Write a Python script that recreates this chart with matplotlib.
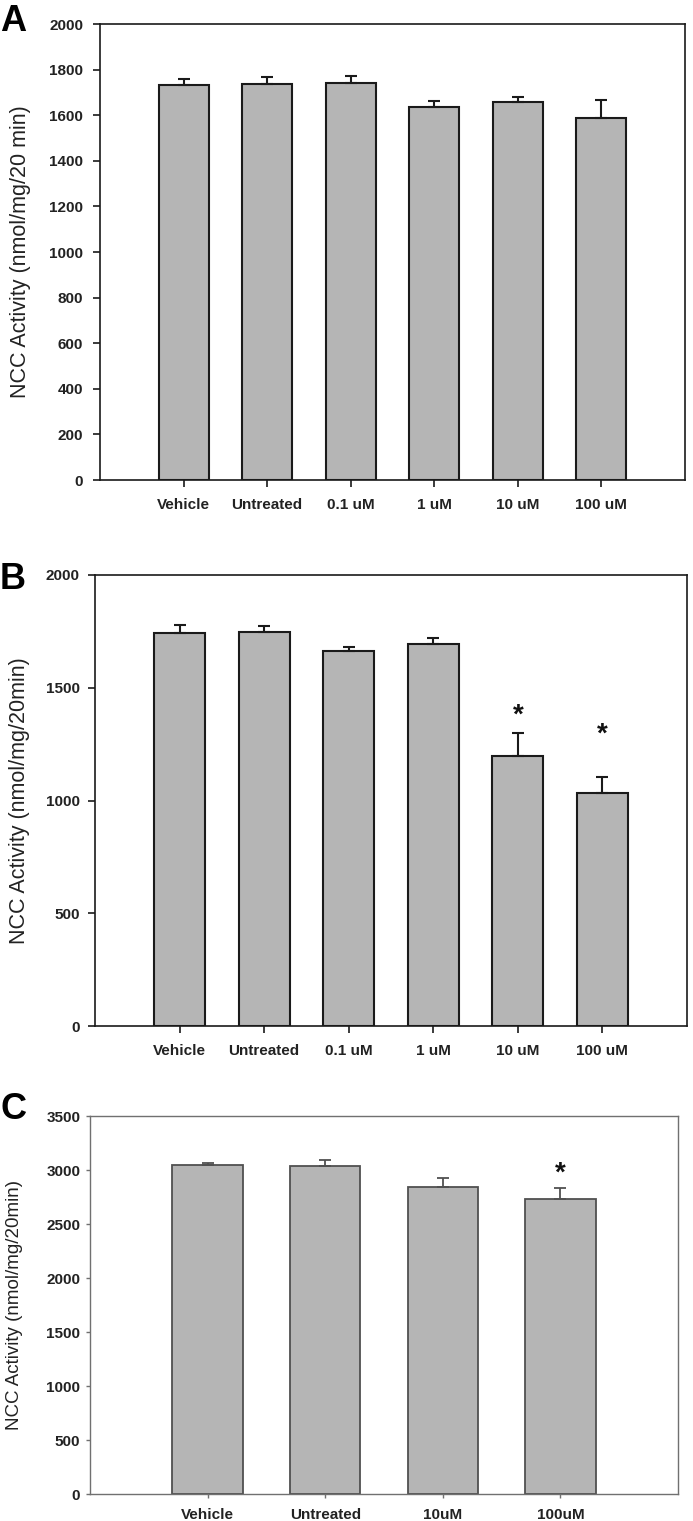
import matplotlib
matplotlib.use('Agg')
import matplotlib.pyplot as plt
import numpy as np

plt.rcParams['font.family'] = ['Liberation Sans', 'DejaVu Sans']

# ---------------- data ----------------
cats_a = ['Vehicle', 'Untreated', '0.1 uM', '1 uM', '10 uM', '100 uM']
vals_a = [1732, 1736, 1740, 1637, 1657, 1589]
errs_a = [26, 30, 32, 25, 23, 79]
yticks_a = [0, 200, 400, 600, 800, 1000, 1200, 1400, 1600, 1800, 2000]

cats_b = ['Vehicle', 'Untreated', '0.1 uM', '1 uM', '10 uM', '100 uM']
vals_b = [1744, 1747, 1664, 1694, 1196, 1033]
errs_b = [34, 28, 18, 25, 103, 73]
yticks_b = [0, 500, 1000, 1500, 2000]
star_idx_b = [4, 5]
star_val_b = [1375, 1290]

cats_c = ['Vehicle', 'Untreated', '10uM', '100uM']
vals_c = [3043, 3040, 2843, 2735]
errs_c = [21, 56, 87, 98]
yticks_c = [0, 500, 1000, 1500, 2000, 2500, 3000, 3500]
star_idx_c = [3]
star_val_c = [2967]

W, H = 693, 1521
fig = plt.figure(figsize=(W / 100, H / 100), dpi=100)


def rect(l, r, t, b):
    return [l / W, 1 - b / H, (r - l) / W, (b - t) / H]


def panel(r, cats, vals, errs, yticks, ylabel, ec, spc, lw, slw,
          tlen, xpad, ypad, label_px, label_size,
          star_idx=(), star_val=()):
    ax = fig.add_axes(r)
    n = len(cats)
    x = np.arange(n)
    ax.bar(x, vals, width=0.6, color='#b5b5b5', edgecolor=ec, linewidth=lw, zorder=2)
    ax.errorbar(x, vals, yerr=[np.zeros(n), errs], fmt='none', ecolor=ec,
                elinewidth=lw, capsize=4.3, capthick=lw, zorder=3)
    ax.set_xlim(-1, n)
    ax.set_ylim(0, yticks[-1])
    ax.set_yticks(yticks)
    ax.set_xticks(x)
    ax.set_xticklabels(cats)
    for s in ax.spines.values():
        s.set_color(spc)
        s.set_linewidth(slw)
    ax.tick_params(direction='out', length=tlen, width=slw, color=spc,
                   labelsize=11)
    ax.tick_params(axis='x', pad=xpad)
    ax.tick_params(axis='y', pad=ypad)
    for t in ax.get_xticklabels() + ax.get_yticklabels():
        t.set_fontweight('bold')
        t.set_color('#222222')
    ax.set_ylabel(ylabel, fontsize=label_size, color='#222222')
    ax.yaxis.label.set_va('center')
    ax.yaxis.label.set_ha('center')
    pos = ax.get_position()
    ax.yaxis.set_label_coords((label_px / W - pos.x0) / pos.width, 0.5)
    for i, v in zip(star_idx, star_val):
        ax.text(x[i], v, '*', ha='center', va='center', fontsize=20,
                fontweight='bold', color='#111111')
    return ax


axA = panel(rect(100, 685, 24, 480), cats_a, vals_a, errs_a, yticks_a,
            'NCC Activity (nmol/mg/20 min)', '#1a1a1a', '#1a1a1a', 1.5, 1.2,
            5, 8, 7, 20, 15.5)
axB = panel(rect(95, 687, 575, 1026), cats_b, vals_b, errs_b, yticks_b,
            'NCC Activity (nmol/mg/20min)', '#1a1a1a', '#1a1a1a', 1.5, 1.2,
            5, 8, 6, 20, 15.5,
            star_idx_b, star_val_b)
axC = panel(rect(90, 678, 1116, 1494), cats_c, vals_c, errs_c, yticks_c,
            'NCC Activity (nmol/mg/20min)', '#505050', '#707070', 1.3, 1.0,
            3, 7, 4, 15, 13.5,
            star_idx_c, star_val_c)

for letter, ytop in [('A', 4), ('B', 562), ('C', 1092)]:
    fig.text(0.0, 1 - ytop / H, letter, fontsize=26, fontweight='bold',
             va='top', ha='left', color='black')

fig.savefig('out.png', dpi=100)
